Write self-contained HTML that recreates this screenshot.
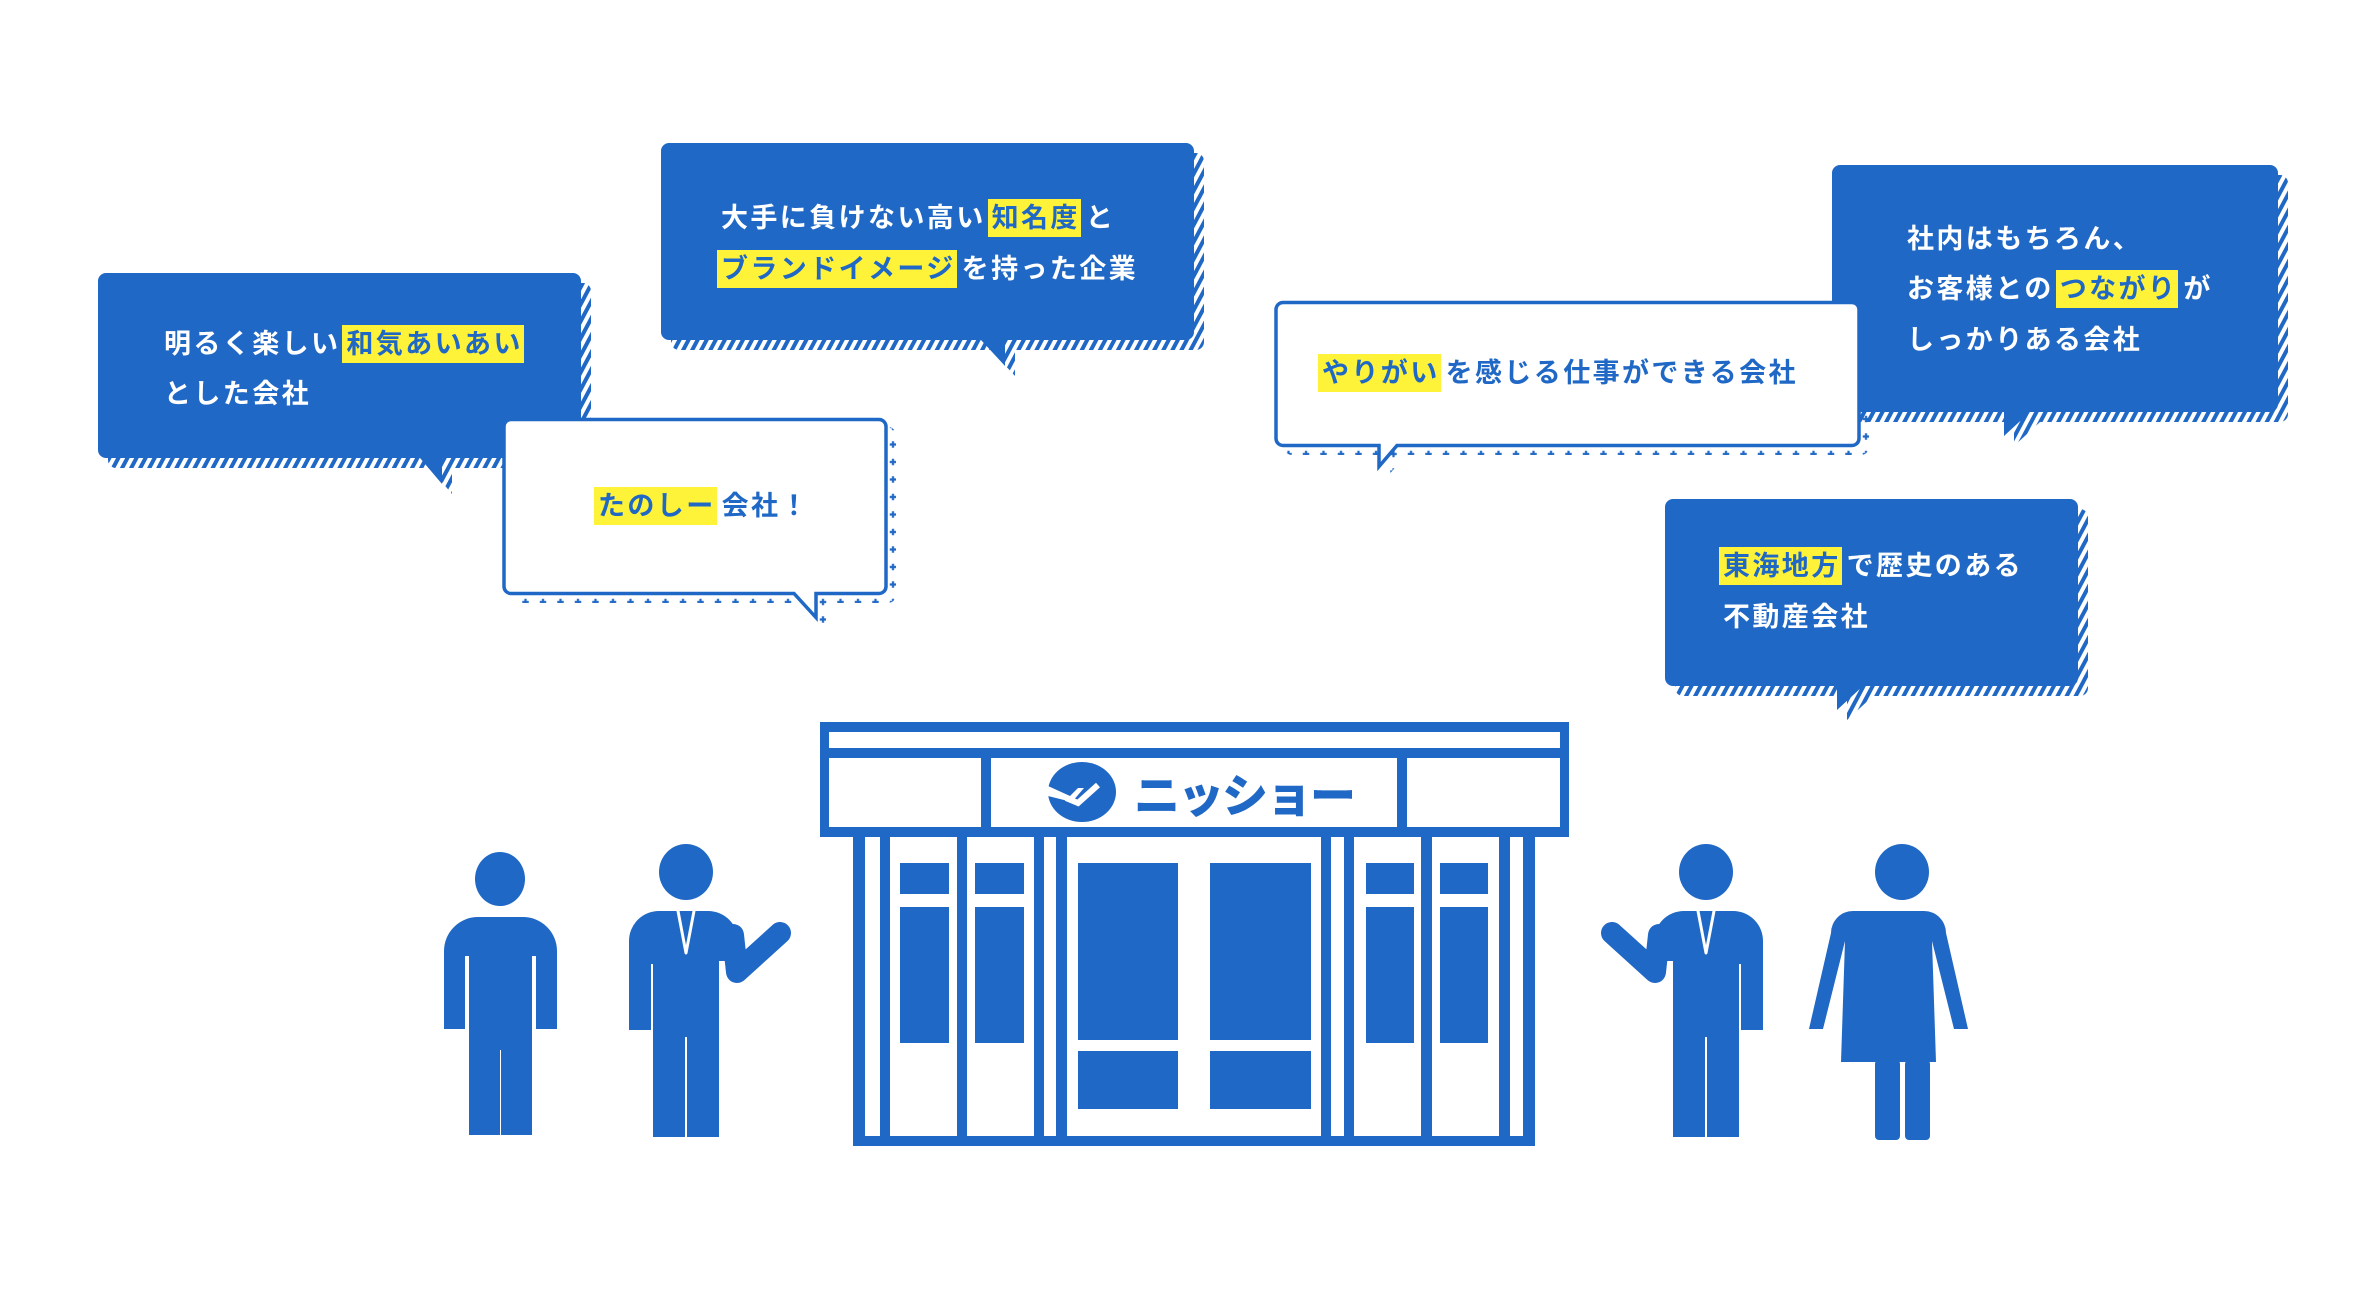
<!DOCTYPE html>
<html><head><meta charset="utf-8">
<style>
html,body{margin:0;padding:0;background:#fff;}
#wrap{position:relative;width:2380px;height:1298px;overflow:hidden;background:#fff;}
svg{position:absolute;left:0;top:0;}
.t{position:absolute;font-family:"Liberation Sans","Noto Sans CJK JP",sans-serif;font-weight:700;font-size:27px;letter-spacing:2.4px;line-height:50px;white-space:nowrap;}
.w{color:#fff;}
.b{color:#2068c5;}
.h{background:#fff33a;color:#2068c5;padding:4px 1px 4px 4px;margin:0 5px 0 2px;}
.h0{margin-left:-4px;}
</style></head><body><div id="wrap">
<svg width="2380" height="1298" viewBox="0 0 2380 1298" xmlns="http://www.w3.org/2000/svg">
<defs>
<pattern id="hat" width="8" height="8" patternUnits="userSpaceOnUse" patternTransform="rotate(28)">
<rect width="8" height="8" fill="#fff"/><rect width="4" height="8" fill="#2068c5"/>
</pattern>
<pattern id="dotA" x="875.25" y="584.25" width="17.5" height="17.5" patternUnits="userSpaceOnUse">
<path d="M8.75 5.5v6.5M5.5 8.75h6.5" stroke="#2068c5" stroke-width="2.2"/>
</pattern>
<pattern id="dotB" x="1848.25" y="436.25" width="17.5" height="17.5" patternUnits="userSpaceOnUse">
<path d="M8.75 5.5v6.5M5.5 8.75h6.5" stroke="#2068c5" stroke-width="2.2"/>
</pattern>
</defs>
<g fill="url(#hat)">
<path transform="translate(10,10)" d="M106 273h467a8 8 0 0 1 8 8v169a8 8 0 0 1-8 8H442v26l-22-26H106a8 8 0 0 1-8-8V281a8 8 0 0 1 8-8z"/>
<path transform="translate(10,10)" d="M669 143h517a8 8 0 0 1 8 8v181a8 8 0 0 1-8 8H1005v26l-24-26H669a8 8 0 0 1-8-8V151a8 8 0 0 1 8-8z"/>
<path transform="translate(10,10)" d="M1840 165h430a8 8 0 0 1 8 8v231a8 8 0 0 1-8 8H2030l-26 24v-24H1840a8 8 0 0 1-8-8V173a8 8 0 0 1 8-8z"/>
<path transform="translate(10,10)" d="M1673 499h397a8 8 0 0 1 8 8v171a8 8 0 0 1-8 8H1863l-26 24v-24H1673a8 8 0 0 1-8-8V507a8 8 0 0 1 8-8z"/>
</g>
<g fill="#2068c5">
<path d="M106 273h467a8 8 0 0 1 8 8v169a8 8 0 0 1-8 8H442v26l-22-26H106a8 8 0 0 1-8-8V281a8 8 0 0 1 8-8z"/>
<path d="M669 143h517a8 8 0 0 1 8 8v181a8 8 0 0 1-8 8H1005v26l-24-26H669a8 8 0 0 1-8-8V151a8 8 0 0 1 8-8z"/>
<path d="M1840 165h430a8 8 0 0 1 8 8v231a8 8 0 0 1-8 8H2030l-26 24v-24H1840a8 8 0 0 1-8-8V173a8 8 0 0 1 8-8z"/>
<path d="M1673 499h397a8 8 0 0 1 8 8v171a8 8 0 0 1-8 8H1863l-26 24v-24H1673a8 8 0 0 1-8-8V507a8 8 0 0 1 8-8z"/>
</g>
<path transform="translate(9,9)" fill="url(#dotA)" d="M511 418h368a8 8 0 0 1 8 8v160a8 8 0 0 1-8 8H817v26l-23-26H511a8 8 0 0 1-8-8V426a8 8 0 0 1 8-8z"/>
<path fill="#fff" stroke="#2068c5" stroke-width="3.5" d="M511 419.5h368a7 7 0 0 1 7 7v160a7 7 0 0 1-7 7H816v24l-22-24H511a7 7 0 0 1-7-7V426.5a7 7 0 0 1 7-7z"/>
<path transform="translate(9,9)" fill="url(#dotB)" d="M1283 301h569a8 8 0 0 1 8 8v129a8 8 0 0 1-8 8H1397l-19 22v-22H1283a8 8 0 0 1-8-8V309a8 8 0 0 1 8-8z"/>
<path fill="#fff" stroke="#2068c5" stroke-width="3.5" d="M1283 302.5h569a7 7 0 0 1 7 7v129a7 7 0 0 1-7 7H1397l-18 21v-21H1283a7 7 0 0 1-7-7V309.5a7 7 0 0 1 7-7z"/>

<g fill="#2068c5">
<rect x="820" y="722" width="749" height="10"/>
<rect x="820" y="748" width="749" height="10"/>
<rect x="820" y="827" width="749" height="10"/>
<rect x="820" y="722" width="9" height="115"/>
<rect x="1560" y="722" width="9" height="115"/>
<rect x="981" y="758" width="10" height="70"/>
<rect x="1397" y="758" width="10" height="70"/>
<rect x="853" y="1136" width="682" height="10"/>
<rect x="853" y="837" width="12" height="309"/>
<rect x="880" y="837" width="10" height="300"/>
<rect x="957" y="837" width="10" height="300"/>
<rect x="1034" y="837" width="10" height="300"/>
<rect x="1056" y="837" width="11" height="300"/>
<rect x="1321" y="837" width="10" height="300"/>
<rect x="1344" y="837" width="10" height="300"/>
<rect x="1421" y="837" width="11" height="300"/>
<rect x="1499" y="837" width="11" height="300"/>
<rect x="1523" y="837" width="12" height="309"/>
<rect x="900" y="863" width="49" height="31"/>
<rect x="975" y="863" width="49" height="31"/>
<rect x="900" y="907" width="49" height="136"/>
<rect x="975" y="907" width="49" height="136"/>
<rect x="1366" y="863" width="48" height="31"/>
<rect x="1440" y="863" width="48" height="31"/>
<rect x="1366" y="907" width="48" height="136"/>
<rect x="1440" y="907" width="48" height="136"/>
<rect x="1078" y="863" width="100" height="177"/>
<rect x="1210" y="863" width="101" height="177"/>
<rect x="1078" y="1051" width="100" height="58"/>
<rect x="1210" y="1051" width="101" height="58"/>
<ellipse cx="1082" cy="792" rx="34" ry="30"/>
<path d="M1048 786l22 10 8 -8 h6 l-12 14 -24-6z" fill="#fff"/>
<path d="M1066 798l12 5 20-18" stroke="#fff" stroke-width="6" fill="none"/>
<text x="1134" y="812" font-family="Liberation Sans,'Noto Sans CJK JP',sans-serif" font-weight="900" font-size="46" letter-spacing="-2" fill="#2068c5">ニッショー</text>
</g>

<g fill="#2068c5" stroke="#2068c5" stroke-linecap="round" stroke-linejoin="round">
<ellipse cx="500" cy="879" rx="25" ry="27" stroke="none"/>
<path d="M466 917h57a34 34 0 0 1 34 34v78h-21v-73h-4v179h-31V1050h-1v85h-31V956h-4v73h-21v-78a34 34 0 0 1 34-34z" stroke="none"/>
<ellipse cx="686" cy="872" rx="27" ry="28" stroke="none"/>
<path d="M652 911h56a30 30 0 0 1 30 30l1 20v-0 h-20v176h-32v-100 h-2v100h-32V964h-2v66h-22v-89a30 30 0 0 1 30-30z" stroke="none"/>
<path d="M733 935 L737 972 L780 933" fill="none" stroke-width="22"/>
<path d="M678 911l8 42 8-42" fill="none" stroke="#fff" stroke-width="3"/>
<g transform="translate(2392,0) scale(-1,1)">
<ellipse cx="686" cy="872" rx="27" ry="28" stroke="none"/>
<path d="M652 911h56a30 30 0 0 1 30 30l1 20v-0 h-20v176h-32v-100 h-2v100h-32V964h-2v66h-22v-89a30 30 0 0 1 30-30z" stroke="none"/>
<path d="M733 935 L737 972 L780 933" fill="none" stroke-width="22"/>
<path d="M678 911l8 42 8-42" fill="none" stroke="#fff" stroke-width="3"/>
</g>
<ellipse cx="1902" cy="872" rx="27" ry="28" stroke="none"/>
<path d="M1880 911h44a22 22 0 0 1 22 22l22 96h-14l-22-88 4 121h-95l4-121-22 88h-14l22-96a22 22 0 0 1 22-22z" stroke="none"/>
<rect x="1875" y="1060" width="25" height="80" rx="4" stroke="none"/>
<rect x="1905" y="1060" width="25" height="80" rx="4" stroke="none"/>
</g>
</svg>

<div class="t w" style="left:164px;top:319px;">明るく楽しい<span class="h">和気あいあい</span></div>
<div class="t w" style="left:164px;top:369px;">とした会社</div>

<div class="t w" style="left:721px;top:193px;">大手に負けない高い<span class="h">知名度</span>と</div>
<div class="t w" style="left:721px;top:244px;"><span class="h h0">ブランドイメージ</span>を持った企業</div>

<div class="t b" style="left:598px;top:481px;"><span class="h h0">たのしー</span>会社！</div>

<div class="t b" style="left:1322px;top:348px;"><span class="h h0">やりがい</span>を感じる仕事ができる会社</div>

<div class="t w" style="left:1907px;top:214px;">社内はもちろん、</div>
<div class="t w" style="left:1907px;top:264px;">お客様との<span class="h">つながり</span>が</div>
<div class="t w" style="left:1907px;top:315px;">しっかりある会社</div>

<div class="t w" style="left:1723px;top:541px;"><span class="h h0">東海地方</span>で歴史のある</div>
<div class="t w" style="left:1723px;top:592px;">不動産会社</div>
</div></body></html>
